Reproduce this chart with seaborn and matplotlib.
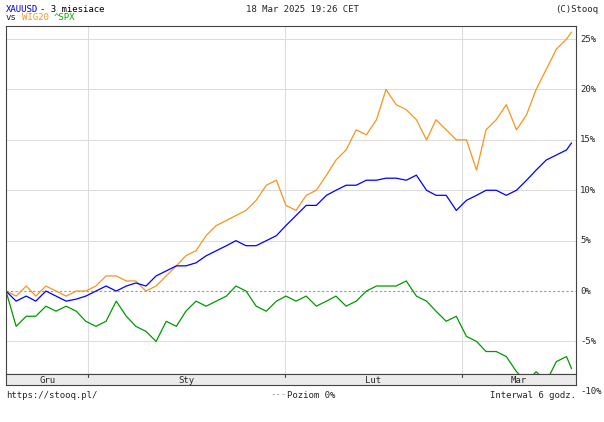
import matplotlib
matplotlib.use("Agg")
import matplotlib.pyplot as plt
import seaborn as sns
import pandas as pd

sns.set_style("white")
plt.rcParams['font.family'] = ['DejaVu Sans Mono']

day = [0.0, 1.6, 3.2, 4.7, 6.3, 7.9, 9.5, 11.1, 12.6, 14.2, 15.8, 17.4, 19.0, 20.5, 22.1,
       23.7, 25.3, 26.9, 28.4, 30.0, 31.6, 33.2, 34.8, 36.3, 37.9, 39.5, 41.1, 42.7, 44.2,
       45.8, 47.4, 49.0, 50.6, 52.1, 53.7, 55.3, 56.9, 58.5, 60.0, 61.6, 63.2, 64.8, 66.4,
       67.9, 69.5, 71.1, 72.7, 74.3, 75.8, 77.4, 79.0, 80.6, 82.2, 83.7, 85.3, 86.9, 88.5, 89.3]
xau = [0, -1, -0.5, -1, 0, -0.5, -1, -0.8, -0.5, 0, 0.5, 0, 0.5, 0.8, 0.5, 1.5, 2, 2.5, 2.5,
       2.8, 3.5, 4, 4.5, 5, 4.5, 4.5, 5, 5.5, 6.5, 7.5, 8.5, 8.5, 9.5, 10, 10.5, 10.5, 11, 11,
       11.2, 11.2, 11, 11.5, 10, 9.5, 9.5, 8, 9, 9.5, 10, 10, 9.5, 10, 11, 12, 13, 13.5, 14, 14.7]
wig = [0, -0.5, 0.5, -0.5, 0.5, 0, -0.5, 0, 0, 0.5, 1.5, 1.5, 1, 1, 0, 0.5, 1.5, 2.5, 3.5,
       4, 5.5, 6.5, 7, 7.5, 8, 9, 10.5, 11, 8.5, 8, 9.5, 10, 11.5, 13, 14, 16, 15.5, 17, 20,
       18.5, 18, 17, 15, 17, 16, 15, 15, 12, 16, 17, 18.5, 16, 17.5, 20, 22, 24, 25, 25.7]
spx = [0, -3.5, -2.5, -2.5, -1.5, -2, -1.5, -2, -3, -3.5, -3, -1, -2.5, -3.5, -4, -5, -3,
       -3.5, -2, -1, -1.5, -1, -0.5, 0.5, 0, -1.5, -2, -1, -0.5, -1, -0.5, -1.5, -1, -0.5,
       -1.5, -1, 0, 0.5, 0.5, 0.5, 1, -0.5, -1, -2, -3, -2.5, -4.5, -5, -6, -6, -6.5, -8, -9,
       -8, -9, -7, -6.5, -7.7]
month_labels = ["Gru", "Sty", "Lut", "Mar"]
month_edges = [0, 13, 44, 72, 90]
yticks = [25, 20, 15, 10, 5, 0, -5, -10]

df = pd.DataFrame({"day": day, "XAUUSD": xau, "WIG20": wig, "^SPX": spx})

W, H = 604, 422
fig = plt.figure(figsize=(W/100, H/100), dpi=100)
ax = fig.add_axes([6/W, (H-374)/H, 570/W, 348/H])
ax.set_xlim(0, 90)
ax.set_ylim(-8.23, 26.3)
for e in month_edges[1:-1]:
    ax.axvline(e, color="#dddddd", lw=0.8, zorder=0)
for t in yticks:
    if t != 0:
        ax.axhline(t, color="#dddddd", lw=0.8, zorder=0)
ax.axhline(0, color="#999999", lw=0.8, ls=(0, (2, 2)), zorder=1)
sns.lineplot(data=df, x="day", y="WIG20", color="#f7941d", lw=0.9, ax=ax)
sns.lineplot(data=df, x="day", y="XAUUSD", color="#0000ff", lw=0.9, ax=ax)
sns.lineplot(data=df, x="day", y="^SPX", color="#009900", lw=0.9, ax=ax)
ax.set_xlabel(""); ax.set_ylabel("")
ax.set_xticks([]); ax.set_yticks([])
for s in ax.spines.values():
    s.set_color("#444444"); s.set_linewidth(0.8)

for t in yticks:
    yp = 291 - 10.08*t
    fig.text(580/W, 1 - yp/H, f"{t}%", fontsize=6.5, va="center", ha="left")

sx = fig.add_axes([6/W, (H-385)/H, 570/W, 11/H])
sx.set_xlim(0, 90); sx.set_ylim(0, 1)
sx.set_facecolor("#ebebeb")
sx.set_xticks([]); sx.set_yticks([])
for s in sx.spines.values():
    s.set_color("#444444"); s.set_linewidth(0.8)
for i, m in enumerate(month_labels):
    sx.text((month_edges[i]+month_edges[i+1])/2, 0.45, m, fontsize=6.5, ha="center", va="center")
    if i > 0:
        sx.plot([month_edges[i]]*2, [0.75, 1], color="#444444", lw=0.8)

fs = 6.5
fig.text(6/W, 1-9/H, "XAUUSD", color="#0000cc", fontsize=fs, va="center")
fig.text(40/W, 1-9/H, "- 3 miesiace", color="black", fontsize=fs, va="center")
fig.text(6/W, 1-18/H, "vs", fontsize=fs, va="center")
fig.text(22/W, 1-18/H, "WIG20", color="#f7941d", fontsize=fs, va="center")
fig.text(54/W, 1-18/H, "^SPX", color="#00aa00", fontsize=fs, va="center")
fig.text(302/W, 1-9/H, "18 Mar 2025 19:26 CET", fontsize=fs, va="center", ha="center")
fig.text(598/W, 1-9/H, "(C)Stooq", fontsize=fs, va="center", ha="right")
fig.text(6/W, 1-395/H, "https://stooq.pl/", fontsize=fs, va="center")
fig.text(270/W, 1-395/H, "---", color="#999999", fontsize=fs, va="center", ha="left")
fig.text(287/W, 1-395/H, "Poziom 0%", fontsize=fs, va="center", ha="left")
fig.text(576/W, 1-395/H, "Interwal 6 godz.", fontsize=fs, va="center", ha="right")

fig.savefig("out.png", dpi=100)
